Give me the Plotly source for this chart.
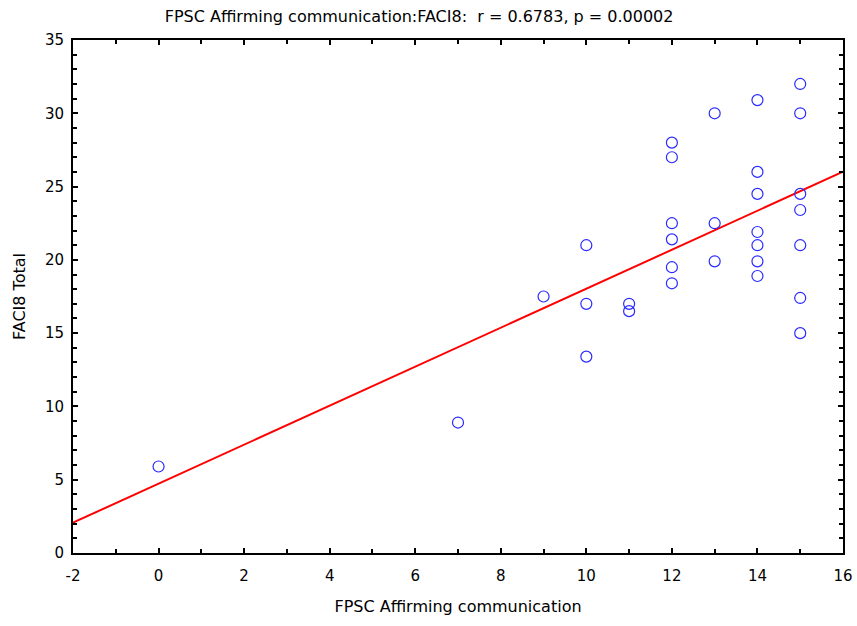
import plotly.graph_objects as go

x_vals = [0, 7, 9, 10, 10, 10, 11, 11,
          12, 12, 12, 12, 12, 12,
          13, 13, 13,
          14, 14, 14, 14, 14, 14, 14,
          15, 15, 15, 15, 15, 15, 15]
y_vals = [5.9, 8.9, 17.5, 21, 17, 13.4, 17, 16.5,
          28, 27, 22.5, 21.4, 19.5, 18.4,
          30, 22.5, 19.9,
          30.9, 26, 24.5, 21.9, 21, 19.9, 18.9,
          32, 30, 24.5, 23.4, 21, 17.4, 15]

fit_intercept = 4.73
fit_slope = 1.33
x_range = [-2, 16]
y_range = [0, 35]
x_tick_vals = [-2, 0, 2, 4, 6, 8, 10, 12, 14, 16]
x_tick_text = ["-2", "0", "2", "4", "6", "8", "10", "12", "14", "16"]

title_text = "FPSC Affirming communication:FACI8:  r = 0.6783, p = 0.00002"
x_title = "FPSC Affirming communication"
y_title = "FACI8 Total"

font_family = "DejaVu Sans, Liberation Sans, Arial, sans-serif"
fs_tick = 15
fs_title = 16

fig = go.Figure()
fig.add_trace(go.Scatter(
    x=x_range,
    y=[fit_intercept + fit_slope * v for v in x_range],
    mode="lines",
    line=dict(color="#ff0000", width=2),
    hoverinfo="skip",
    showlegend=False,
))
fig.add_trace(go.Scatter(
    x=x_vals, y=y_vals, mode="markers",
    marker=dict(symbol="circle-open", size=11, color="#2a2aff",
                line=dict(width=1.2, color="#2a2aff")),
    showlegend=False,
))

axis_common = dict(
    showline=True, linecolor="black", linewidth=2, mirror="ticks",
    ticks="inside", ticklen=5, tickwidth=1.5, tickcolor="black",
    showgrid=False, zeroline=False,
    tickfont=dict(family=font_family, size=fs_tick, color="black"),
)

fig.update_layout(
    width=857, height=626,
    margin=dict(l=73, r=14, t=40, b=73, autoexpand=False),
    paper_bgcolor="white", plot_bgcolor="white",
    font=dict(family=font_family, size=fs_tick, color="black"),
    title=dict(text=title_text, x=0.489, xanchor="center", y=1 - 16 / 626, yanchor="middle",
               font=dict(family=font_family, size=fs_title, color="black")),
    xaxis=dict(range=x_range, tickvals=x_tick_vals, ticktext=x_tick_text,
               ticklabelstandoff=8,
               minor=dict(dtick=1, tick0=0, ticks="inside", ticklen=4, tickcolor="black"),
               title=dict(text=x_title, standoff=17,
                          font=dict(family=font_family, size=fs_title)),
               **axis_common),
    yaxis=dict(range=y_range, dtick=5, ticklabelstandoff=4,
               minor=dict(dtick=1, ticks="inside", ticklen=4, tickcolor="black"),
               title=dict(text=y_title, standoff=15,
                          font=dict(family=font_family, size=fs_title)),
               **axis_common),
)

fig.write_html("out.html")
